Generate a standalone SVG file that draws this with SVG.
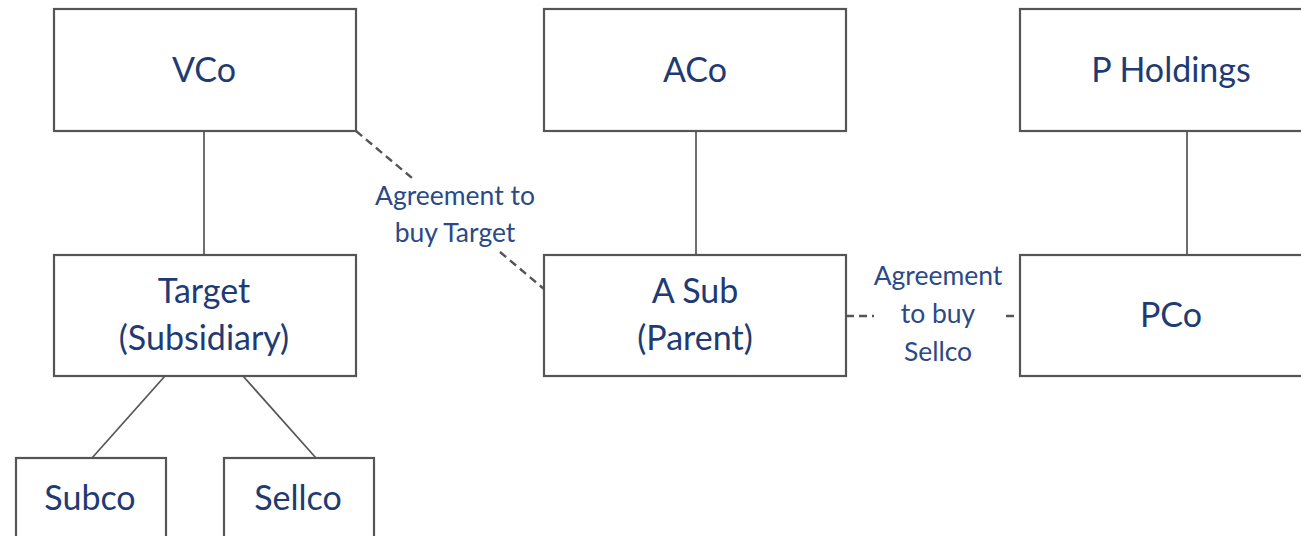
<svg xmlns="http://www.w3.org/2000/svg" width="1301" height="536" viewBox="0 0 1301 536">
  <style>
    .box { fill: #ffffff; stroke: #555555; stroke-width: 2.2; }
    .link { stroke: #555555; stroke-width: 1.7; fill: none; }
    .dash { stroke: #555555; stroke-width: 2.4; fill: none; stroke-dasharray: 8 5; }
    .lbl { font-family: Lato, "Liberation Sans", sans-serif; font-size: 34px; fill: #1f3b73; text-anchor: middle; }
    .note { font-family: Lato, "Liberation Sans", sans-serif; font-size: 26.5px; fill: #2b4a85; text-anchor: middle; }
  </style>
  <rect width="1301" height="536" fill="#ffffff"/>

  <g id="connectors">
    <line class="link" x1="204" y1="131" x2="204" y2="255"/>
    <line class="link" x1="696" y1="131" x2="696" y2="255"/>
    <line class="link" x1="1187" y1="131" x2="1187" y2="255"/>
    <line class="link" x1="165" y1="376" x2="92" y2="458"/>
    <line class="link" x1="243" y1="376" x2="316" y2="458"/>
    <line class="dash" x1="356" y1="131" x2="412" y2="178"/>
    <line class="dash" x1="500" y1="252" x2="544" y2="289"/>
    <line class="dash" x1="846" y1="316" x2="874" y2="316"/>
    <line class="dash" x1="1006" y1="316" x2="1020" y2="316"/>
    <text class="note" x="455" y="205">Agreement to</text>
    <text class="note" x="455" y="242">buy Target</text>
    <text class="note" x="938" y="285">Agreement</text>
    <text class="note" x="938" y="323">to buy</text>
    <text class="note" x="938" y="361">Sellco</text>
  </g>

  <g id="vco">
    <rect class="box" x="54" y="9" width="302" height="122"/>
    <text class="lbl" x="204" y="82">VCo</text>
  </g>
  <g id="target">
    <rect class="box" x="54" y="255" width="302" height="121"/>
    <text class="lbl" x="204" y="303">Target</text>
    <text class="lbl" x="204" y="350">(Subsidiary)</text>
  </g>
  <g id="aco">
    <rect class="box" x="544" y="9" width="302" height="122"/>
    <text class="lbl" x="695" y="82">ACo</text>
  </g>
  <g id="asub">
    <rect class="box" x="544" y="255" width="302" height="121"/>
    <text class="lbl" x="695" y="303">A Sub</text>
    <text class="lbl" x="695" y="350">(Parent)</text>
  </g>
  <g id="pholdings">
    <rect class="box" x="1020" y="9" width="300" height="122"/>
    <text class="lbl" x="1171" y="82">P Holdings</text>
  </g>
  <g id="pco">
    <rect class="box" x="1020" y="255" width="300" height="121"/>
    <text class="lbl" x="1171" y="327">PCo</text>
  </g>
  <g id="subco">
    <rect class="box" x="16" y="458" width="150" height="100"/>
    <text class="lbl" x="90" y="510">Subco</text>
  </g>
  <g id="sellco">
    <rect class="box" x="224" y="458" width="150" height="100"/>
    <text class="lbl" x="298" y="510">Sellco</text>
  </g>
</svg>
